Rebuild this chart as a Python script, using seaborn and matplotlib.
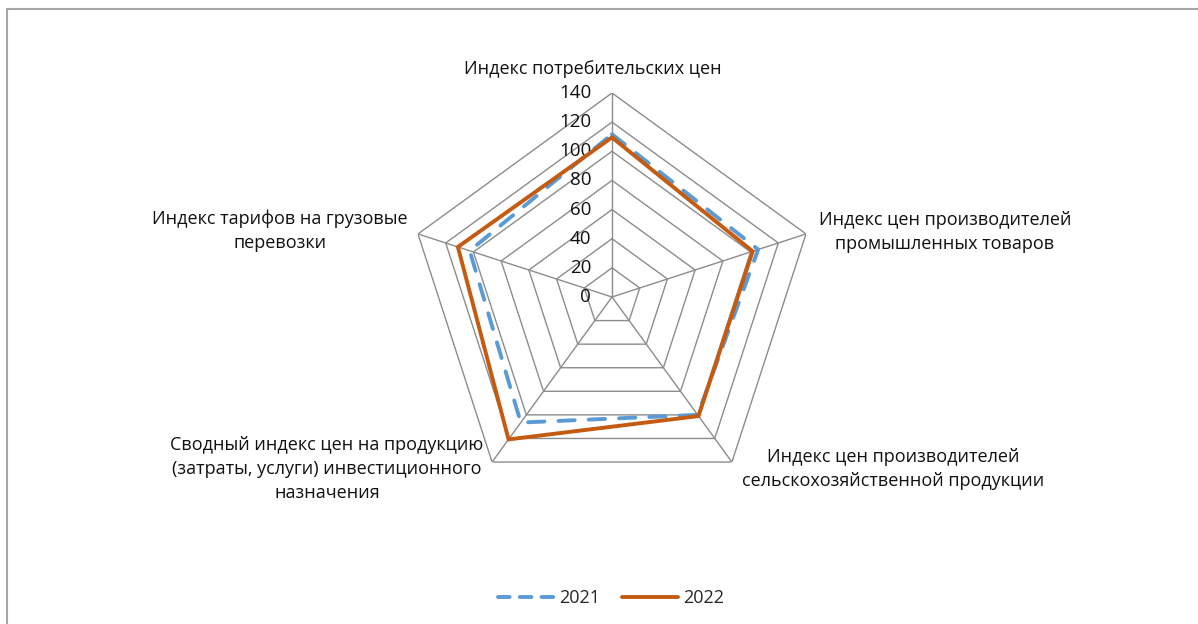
import numpy as np
import pandas as pd
import matplotlib
matplotlib.use("Agg")
import matplotlib.pyplot as plt
from matplotlib.lines import Line2D
import seaborn as sns

# ==========================================================
# DATA
# ==========================================================

CATEGORIES = [
    "Индекс потребительских цен",
    "Индекс цен производителей\nпромышленных товаров",
    "Индекс цен производителей\nсельскохозяйственной продукции",
    "Сводный индекс цен на продукцию\n(затраты, услуги) инвестиционного\nназначения",
    "Индекс тарифов на грузовые\nперевозки",
]
YEARS = ["2021", "2022"]
VALUES_2021 = [111.7, 105.5, 100.0, 106.5, 102.7]
VALUES_2022 = [109.5, 101.5, 101.0, 120.8, 111.2]
RADIAL_TICKS = [0, 20, 40, 60, 80, 100, 120, 140]

COLORS = {"2021": "#5B9BD5", "2022": "#C55A11"}
GRID_COLOR = "#8C8C8C"
TEXT_COLOR = "#111111"
W, H = 1198, 624

sns.set_theme(style="white")
plt.rcParams['font.family'] = ['Open Sans', 'DejaVu Sans']

n = len(CATEGORIES)
theta = np.linspace(0, 2 * np.pi, n, endpoint=False)
theta_closed = np.append(theta, theta[0])

rows = []
for year, vals in zip(YEARS, [VALUES_2021, VALUES_2022]):
    closed = list(vals) + [vals[0]]
    for i, (t, v) in enumerate(zip(theta_closed, closed)):
        rows.append({"order": i, "theta": t, "value": v, "year": year})
df = pd.DataFrame(rows)

fig = plt.figure(figsize=(W / 100, H / 100), dpi=100)
fig.patch.set_facecolor("white")

# center at (612, 297) px, radius 204 px for 140
cx, cy, rad = 612, 297, 204
ax = fig.add_axes([(cx - rad) / W, 1 - (cy + rad) / H, 2 * rad / W, 2 * rad / H],
                  projection="polar")
ax.set_theta_offset(np.pi / 2)
ax.set_theta_direction(-1)
ax.set_ylim(0, 140)
ax.grid(False)
ax.set_xticks([])
ax.set_yticks([])
ax.spines["polar"].set_visible(False)
ax.set_facecolor("none")

# polygon gridlines and spokes
for level in RADIAL_TICKS[1:]:
    ax.plot(theta_closed, [level] * (n + 1), color=GRID_COLOR, lw=1.0, zorder=1)
for t in theta:
    ax.plot([t, t], [0, RADIAL_TICKS[-1]], color=GRID_COLOR, lw=1.0, zorder=1)

# radial tick labels left of the top spoke
for level in RADIAL_TICKS:
    ax.annotate(str(level), xy=(0, level), xytext=(-15, 0), textcoords="offset points",
                ha="right", va="center", fontsize=13.5, color=TEXT_COLOR)

sns.lineplot(data=df, x="theta", y="value", hue="year", style="year",
             palette=COLORS, dashes={"2021": (4.2, 3.6), "2022": ""},
             sort=False, estimator=None, units="year", linewidth=2.8,
             ax=ax, legend=False, zorder=3)
for line in ax.get_lines()[-2:]:
    line.set_dash_capstyle("round")
    line.set_solid_capstyle("round")
    line.set_solid_joinstyle("miter")
ax.set_xlabel("")
ax.set_ylabel("")
ax.set_ylim(0, 140)

# category labels
label_pos = [(593, 69), (945, 232), (893, 469), (327, 469), (280, 231)]
for text, (x, y) in zip(CATEGORIES, label_pos):
    fig.text(x / W, 1 - y / H, text, ha="center", va="center", fontsize=13,
             color=TEXT_COLOR, linespacing=1.4, multialignment="center")

# legend
handles = [Line2D([], [], color=COLORS["2021"], lw=2.8, dashes=(3.0, 2.6),
                  dash_capstyle="round"),
           Line2D([], [], color=COLORS["2022"], lw=2.8, solid_capstyle="round")]
fig.legend(handles, YEARS, loc="center", bbox_to_anchor=(611 / W, 1 - 598 / H),
           ncol=2, frameon=False, handlelength=3.1,
           columnspacing=1.2, handletextpad=0.3, prop={"size": 13})

# chart border (only top/left visible in the crop)
fig.add_artist(Line2D([7 / W, 7 / W], [0, 1 - 9 / H], transform=fig.transFigure,
                      color="#A6A6A6", lw=1.5))
fig.add_artist(Line2D([7 / W, 1], [1 - 9 / H, 1 - 9 / H], transform=fig.transFigure,
                      color="#A6A6A6", lw=1.5))

fig.savefig("out.png", dpi=100, facecolor="white")
